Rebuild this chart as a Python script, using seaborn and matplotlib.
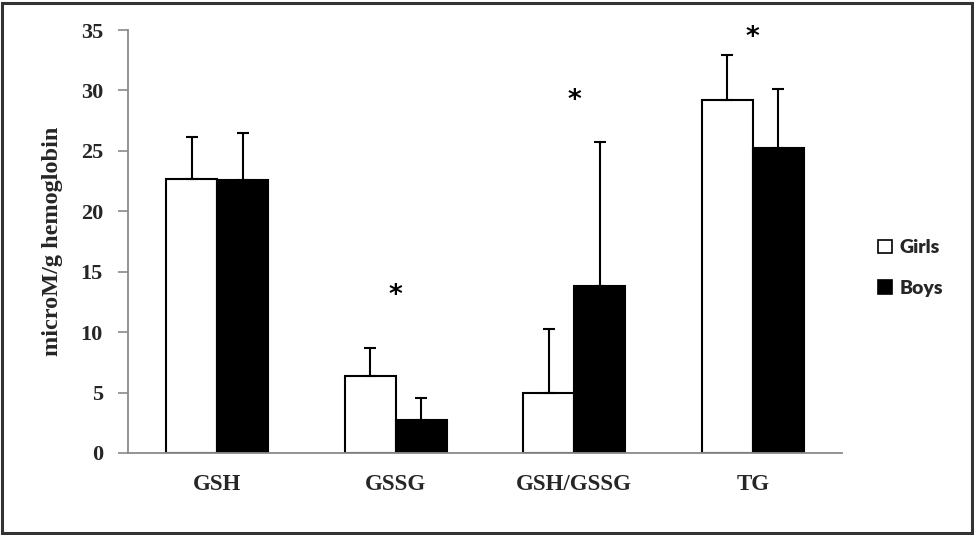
import matplotlib
matplotlib.use("Agg")
import matplotlib.pyplot as plt
import seaborn as sns
import pandas as pd
import numpy as np
from matplotlib.patches import Rectangle

categories = ["GSH", "GSSG", "GSH/GSSG", "TG"]
groups = ["Girls", "Boys"]
girls_mean = [22.7, 6.35, 4.95, 29.2]
girls_sd = [3.45, 2.35, 5.3, 3.75]
boys_mean = [22.55, 2.7, 13.8, 25.2]
boys_sd = [3.9, 1.85, 11.9, 4.95]
star_height = [None, 13.0, 29.1, 34.3]
y_ticks = [0, 5, 10, 15, 20, 25, 30, 35]

df = pd.DataFrame({
    "category": categories * 2,
    "group": [groups[0]] * 4 + [groups[1]] * 4,
    "value": girls_mean + boys_mean,
    "sd": girls_sd + boys_sd,
})

sns.set_theme(style="white")
plt.rcParams["font.family"] = ["Liberation Serif", "DejaVu Serif"]

fig = plt.figure(figsize=(9.74, 5.35), dpi=100)
ax = fig.add_axes([128 / 974, 1 - 453 / 535, (842 - 128) / 974, (453 - 30) / 535])

sns.barplot(data=df, x="category", y="value", hue="group", order=categories,
            hue_order=groups, palette={"Girls": "white", "Boys": "black"},
            edgecolor="black", linewidth=1.5, width=0.57, errorbar=None,
            ax=ax, legend=True)

# error bars (upper only) placed on the bars drawn by seaborn
bars = [p for p in ax.patches if p.get_height() > 0][:8]
for p, (_, row) in zip(bars, df.iterrows()):
    xc = p.get_x() + p.get_width() / 2
    ax.errorbar([xc], [row["value"]], yerr=[[0], [row["sd"]]], fmt="none",
                ecolor="black", elinewidth=1.5, capsize=4.5, capthick=1.5, zorder=1)

for i, h in enumerate(star_height):
    if h is not None:
        ax.text(i, h, "*", ha="center", va="center", fontsize=19,
                fontweight="bold", family="DejaVu Sans", color="black")

ax.set_ylim(0, 35)
ax.set_xlim(-0.5, 3.5)
ax.set_yticks(y_ticks)
ax.set_yticklabels([str(t) for t in y_ticks], fontsize=16, fontweight="bold")
ax.set_xticks(range(len(categories)))
ax.set_xticklabels(categories, fontsize=16.5, fontweight="bold")
ax.tick_params(axis="y", length=7, width=1.2, color="#8a8a8a", pad=11, left=True)
ax.tick_params(axis="x", length=0, pad=15)
ax.set_xlabel("")
ax.set_ylabel("microM/g hemoglobin", fontsize=17.5, fontweight="bold")
ax.yaxis.set_label_coords((53 - 128) / 714, 0.5)
ax.yaxis.label.set_va("center")

for s in ["top", "right"]:
    ax.spines[s].set_visible(False)
for s in ["left", "bottom"]:
    ax.spines[s].set_color("#8a8a8a")
    ax.spines[s].set_linewidth(1.3)

handles, labels = ax.get_legend_handles_labels()
leg = ax.legend(handles, labels, loc="center left",
                bbox_to_anchor=(878 / 974, 1 - 268 / 535),
                bbox_transform=fig.transFigure, frameon=False,
                prop={"family": "Lato", "weight": "heavy", "size": 14},
                handlelength=0.72, handleheight=0.72, handletextpad=0.4,
                labelspacing=1.2, borderpad=0, borderaxespad=0)
for h in leg.legend_handles:
    h.set_edgecolor("black")
    h.set_linewidth(1.2)

fig.patches.append(Rectangle((2 / 974, 2 / 535), 970 / 974, 530 / 535,
                             transform=fig.transFigure, fill=False,
                             edgecolor="#333333", linewidth=2.2))

fig.savefig("out.png", dpi=100)
